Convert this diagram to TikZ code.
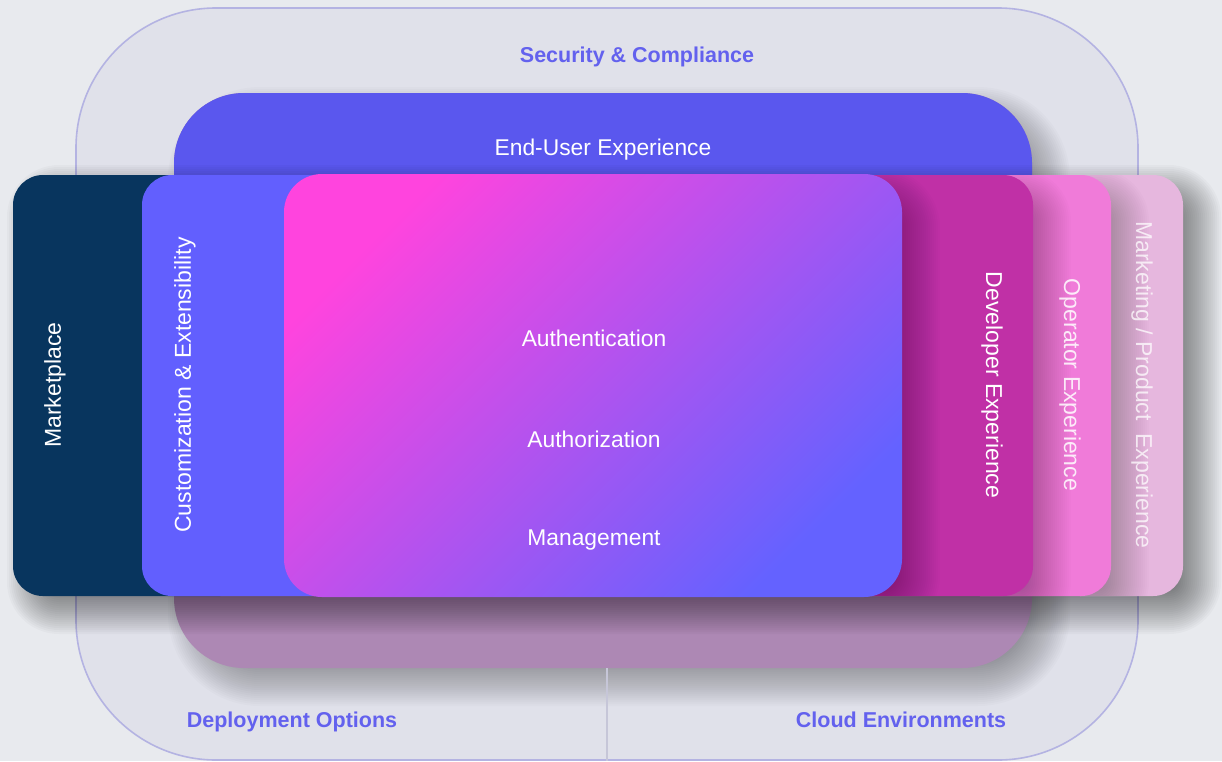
\documentclass[tikz,border=0pt]{standalone}
\usepackage{fontspec}
\setmainfont{Liberation Sans}
\definecolor{bg}{HTML}{E8EAEE}
\definecolor{outerfill}{HTML}{E0E1EA}
\definecolor{outerline}{HTML}{B4B3E2}
\definecolor{labelc}{HTML}{6361EE}
\definecolor{euxblue}{HTML}{5A57EE}
\definecolor{mauve}{HTML}{AD88B4}
\definecolor{navy}{HTML}{08355E}
\definecolor{custblue}{HTML}{625FFE}
\definecolor{devmag}{HTML}{C030A6}
\definecolor{oppink}{HTML}{F07BD9}
\definecolor{mktpink}{HTML}{E6B7DE}
\definecolor{gradA}{HTML}{FF44DE}
\definecolor{gradB}{HTML}{6462FF}
\definecolor{divider}{HTML}{C6C6D8}
% soft drop shadow: x1 y1 x2 y2 radius opacity-per-layer
\newcommand\boxshadow[6]{%
  \foreach \e in {-22,-20,...,22} {
    \fill[black, fill opacity=#6, rounded corners={#5+\e}]
      ({#1-\e+16},{#2-\e+16}) rectangle ({#3+\e+16},{#4+\e+16});
  }%
}
\tikzset{
  rowbox/.style={rounded corners=30pt},
  sidetext/.style={font=\fontsize{23}{27}\selectfont, text=white, inner sep=0pt},
  innertext/.style={font=\fontsize{22.8}{27}\selectfont, text=white, inner sep=0pt},
  headtext/.style={font=\bfseries\fontsize{21.5}{26}\selectfont, text=labelc, inner sep=0pt},
}
\begin{document}
\begin{tikzpicture}[x=1pt,y=-1pt]
\fill[bg] (0,0) rectangle (1222,761);
\useasboundingbox (0,0) rectangle (1222,761);
% outer security box
\draw[outerline, fill=outerfill, line width=1.6pt, rounded corners=140pt] (76,8) rectangle (1138,760);
\node[headtext] (sec) at (637,57) {Security \& Compliance};
\node[headtext] (dep) at (292,722) {Deployment Options};
\node[headtext] (cloud) at (901,720) {Cloud Environments};
% end-user box
\boxshadow{174}{93}{1032}{668}{70}{0.016}
\fill[mauve, rounded corners=70pt] (174,93) rectangle (1032,668);
\fill[euxblue, rounded corners=70pt] (174,93) rectangle (1032,500);
\node[innertext] (eux) at (603,150) {End-User Experience};
\coordinate (divtop) at (607,668);
\coordinate (divbot) at (607,761);
\draw[divider, line width=1.5pt] (divtop) -- (divbot);
% shadow of the whole middle row
\boxshadow{13}{171}{1183}{596}{30}{0.022}
% middle row, right side
\fill[mktpink, rowbox] (1050,175) rectangle (1183,596);
\begin{scope}
  \clip[rowbox] (1050,175) rectangle (1183,596);
  \boxshadow{950}{175}{1111}{596}{30}{0.012}
\end{scope}
\fill[oppink, rowbox] (950,175) rectangle (1111,596);
\begin{scope}
  \clip[rowbox] (950,175) rectangle (1111,596);
  \boxshadow{800}{175}{1033}{596}{30}{0.012}
\end{scope}
\fill[devmag, rowbox] (800,175) rectangle (1033,596);
\begin{scope}
  \clip[rowbox] (800,175) rectangle (1033,596);
  \boxshadow{284}{174}{902}{597}{38}{0.012}
\end{scope}
% middle row, left side
\fill[navy, rowbox] (13,175) rectangle (250,596);
\fill[custblue, rowbox] (142,175) rectangle (400,596);
% central box
\shade[rounded corners=38pt, top color=gradA, bottom color=gradB, shading angle=45] (284,174) rectangle (902,597);
% labels
\node[sidetext, rotate=90] (mkt) at (55,385) {Marketplace};
\node[sidetext, rotate=90] (cust) at (185,385) {Customization \& Extensibility};
\node[sidetext, rotate=-90] (dev) at (992,385) {Developer Experience};
\node[sidetext, rotate=-90, text opacity=0.85] (ops) at (1070,385) {Operator Experience};
\node[sidetext, rotate=-90, text opacity=0.75] (prod) at (1142,385) {Marketing / Product\ \ Experience};
\node[innertext] (authn) at (594,338) {Authentication};
\node[innertext] (authz) at (594,439) {Authorization};
\node[innertext] (mgmt) at (594,540) {Management};
\end{tikzpicture}
\end{document}
